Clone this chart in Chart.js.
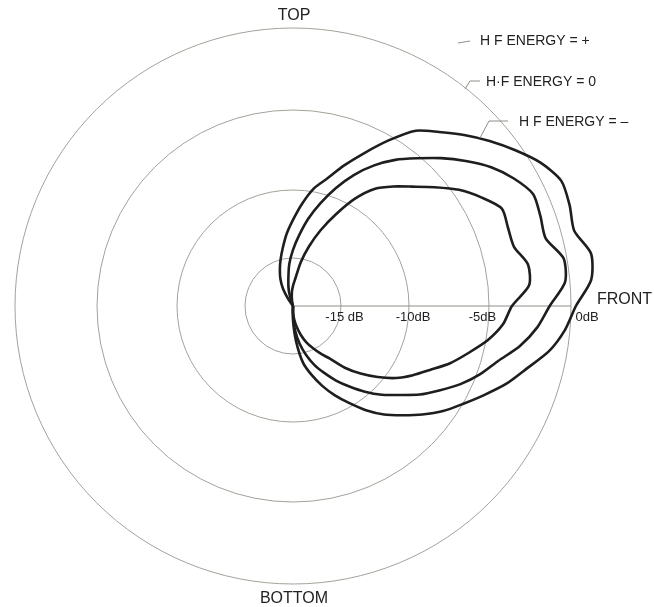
<!DOCTYPE html>
<html>
<head>
<meta charset="utf-8">
<style>
  html, body { margin: 0; padding: 0; background: #ffffff; }
  #wrap { width: 654px; height: 607px; }
</style>
<script src="https://cdn.jsdelivr.net/npm/chart.js@4.4.1/dist/chart.umd.min.js"></script>
</head>
<body>
<div id="wrap"><canvas id="polar" width="654" height="607"></canvas></div>
<script>
// Measurement angles in degrees, counter-clockwise from the front axis (90 = top).
const angles = [
    0,   5,  10,  15,  20,  25,  30,  35,  40,  45,  50,  55,
   60,  65,  70,  75,  80,  85,  90,  95, 100, 105, 110, 115,
  120, 125, 130, 135, 140, 145, 150, 155, 160, 165, 170, 175,
  180, 185, 190, 195, 200, 205, 210, 215, 220, 225, 230, 235,
  240, 245, 250, 255, 260, 265, 270, 275, 280, 285, 290, 295,
  300, 305, 310, 315, 320, 325, 330, 335, 340, 345, 350, 355
];

// Relative level in dB at each angle (null where the trace is not plotted).
const hfPlus = [
   0.3,   1.3,   1.5,   0.8,   1.0,   1.1,   0.5,  -0.4,  -1.3,  -2.2,  -3.1,  -3.9,
  -5.3,  -6.7,  -7.9,  -9.0,  -9.8, -11.0, -12.2, -13.2, -14.2, -15.0, -16.0, -16.9,
 -17.9, -19.2, -20.0,  null,  null,  null,  null,  null,  null,  null,  null,  null,
  null,  null,  null,  null,  null,  null,  null,  null,  null,  null,  null,  null,
  null,  null,  null,  null,  null, -20.0, -18.5, -16.3, -14.3, -13.3, -12.3, -11.3,
 -10.3,  -9.3,  -8.4,  -7.6,  -6.7,  -5.8,  -5.0,  -4.1,  -3.1,  -2.2,  -1.1,  -0.3
];
const hfZero = [
  -1.3,  -0.3,  -0.2,  -1.0,  -0.9,  -0.8,  -1.4,  -2.2,  -3.2,  -4.2,  -5.2,  -6.1,
  -7.1,  -8.2,  -9.4, -10.7, -12.0, -13.3, -14.4, -15.6, -17.2, -18.3, -19.5, -20.0,
  null,  null,  null,  null,  null,  null,  null,  null,  null,  null,  null,  null,
  null,  null,  null,  null,  null,  null,  null,  null,  null,  null,  null,  null,
  null,  null,  null,  null,  null, -20.0, -19.1, -17.4, -16.0, -14.8, -13.9, -13.1,
 -12.2, -11.3, -10.3,  -9.4,  -8.6,  -7.6,  -6.7,  -5.7,  -4.8,  -4.0,  -2.9,  -2.0
];
const hfMinus = [
  -3.6,  -2.5,  -2.4,  -3.0,  -3.0,  -2.9,  -3.7,  -4.6,  -5.7,  -6.7,  -7.5,  -8.3,
  -9.5, -11.1, -12.6, -14.0, -15.4, -17.1, -17.9, -18.6, -19.4, -20.0,  null,  null,
  null,  null,  null,  null,  null,  null,  null,  null,  null,  null,  null,  null,
  null,  null,  null,  null,  null,  null,  null,  null,  null,  null,  null,  null,
  null,  null,  null,  null,  null, -20.0, -19.4, -18.6, -17.8, -16.9, -16.0, -15.2,
 -14.5, -13.8, -12.6, -11.5, -10.4,  -9.4,  -8.6,  -7.8,  -6.8,  -5.9,  -4.9,  -4.1
];

const seriesNames = ['H F ENERGY = +', 'H\u00B7F ENERGY = 0', 'H F ENERGY = \u2013'];
const ringValues = [-15, -10, -5, 0];
const ringLabels = ['-15 dB', '-10dB', '-5dB', '0dB'];
const directionLabels = ['TOP', 'FRONT', 'BOTTOM'];

// Polar paper used for these plots is not linear in dB: ring radii as
// fractions of the 0 dB ring.
const KNOT_DB = [-20, -15, -10, -5, 0];
const KNOT_FRAC = [0, 48 / 278, 116 / 278, 196 / 278, 1];

class DecibelRadialScale extends Chart.RadialLinearScale {
  getDistanceFromCenterForValue(value) {
    if (value === null || value === undefined || Number.isNaN(value)) return NaN;
    let i = 1;
    while (i < KNOT_DB.length - 1 && value > KNOT_DB[i]) i++;
    const t = (value - KNOT_DB[i - 1]) / (KNOT_DB[i] - KNOT_DB[i - 1]);
    const frac = KNOT_FRAC[i - 1] + t * (KNOT_FRAC[i] - KNOT_FRAC[i - 1]);
    return this.drawingArea * Math.max(0, frac);
  }
}
DecibelRadialScale.id = 'decibelRadial';
Chart.register(DecibelRadialScale);

// Radar scales run clockwise from the start angle, the plot runs counter-clockwise.
const N = angles.length;
const order = angles.map((_, k) => (N - k) % N);
const pick = arr => order.map(i => arr[i]);

const RING_GREY = '#a2a29a';
const INK = '#1e1e1e';

const lineStyle = {
  fill: false,
  borderColor: INK,
  borderWidth: 2.6,
  pointRadius: 0,
  pointHoverRadius: 0,
  tension: 0.25,
  spanGaps: false,
  clip: false
};

const annotations = {
  id: 'annotations',
  afterDraw(chart) {
    const s = chart.scales.r;
    const ctx = chart.ctx;
    const cx = s.xCenter, cy = s.yCenter, R = s.drawingArea;
    ctx.save();
    ctx.fillStyle = '#222';
    ctx.textBaseline = 'middle';

    ctx.font = '16px "Liberation Sans", Arial, sans-serif';
    ctx.textAlign = 'center';
    ctx.fillText(directionLabels[0], cx + 1, cy - R - 12);
    ctx.fillText(directionLabels[2], cx + 1, cy + R + 15);
    ctx.textAlign = 'left';
    ctx.fillText(directionLabels[1], cx + R + 26, cy - 6);

    // ring values printed just under the front axis
    const shift = [3.5, 4, -6.5, 16];
    ctx.font = '13px "Liberation Sans", Arial, sans-serif';
    ctx.textAlign = 'center';
    ringValues.forEach((v, i) => {
      ctx.fillText(ringLabels[i], cx + s.getDistanceFromCenterForValue(v) + shift[i], cy + 11);
    });

    // curve captions with their leader lines
    ctx.strokeStyle = '#8e8e86';
    ctx.lineWidth = 1;
    ctx.beginPath();
    ctx.moveTo(458, 43); ctx.lineTo(470, 41);
    ctx.moveTo(465, 89); ctx.lineTo(470, 81); ctx.lineTo(480, 81);
    ctx.moveTo(480, 138); ctx.lineTo(489, 121); ctx.lineTo(508, 121);
    ctx.stroke();

    ctx.font = '14px "Liberation Sans", Arial, sans-serif';
    ctx.textAlign = 'left';
    ctx.fillText(seriesNames[0], 480, 41);
    ctx.fillText(seriesNames[1], 486, 82);
    ctx.fillText(seriesNames[2], 519, 122);
    ctx.restore();
  }
};

new Chart(document.getElementById('polar'), {
  type: 'radar',
  data: {
    labels: pick(angles).map(a => a + '\u00B0'),
    datasets: [
      Object.assign({ label: seriesNames[0], data: pick(hfPlus) }, lineStyle),
      Object.assign({ label: seriesNames[1], data: pick(hfZero) }, lineStyle),
      Object.assign({ label: seriesNames[2], data: pick(hfMinus) }, lineStyle)
    ]
  },
  options: {
    responsive: false,
    animation: false,
    events: [],
    layout: { padding: { left: 15, top: 28, right: 83, bottom: 23 } },
    scales: {
      r: {
        type: 'decibelRadial',
        min: -20,
        max: 0,
        startAngle: 90,
        ticks: { display: false, stepSize: 5 },
        pointLabels: { display: false },
        grid: {
          circular: true,
          color: c => (c.index === 0 ? 'rgba(0,0,0,0)' : RING_GREY),
          lineWidth: 1
        },
        angleLines: {
          display: true,
          color: '#8e8e86',
          lineWidth: c => (c.index === 0 ? 1 : 0)
        }
      }
    },
    plugins: {
      legend: { display: false },
      tooltip: { enabled: false }
    }
  },
  plugins: [annotations]
});
</script>
</body>
</html>
